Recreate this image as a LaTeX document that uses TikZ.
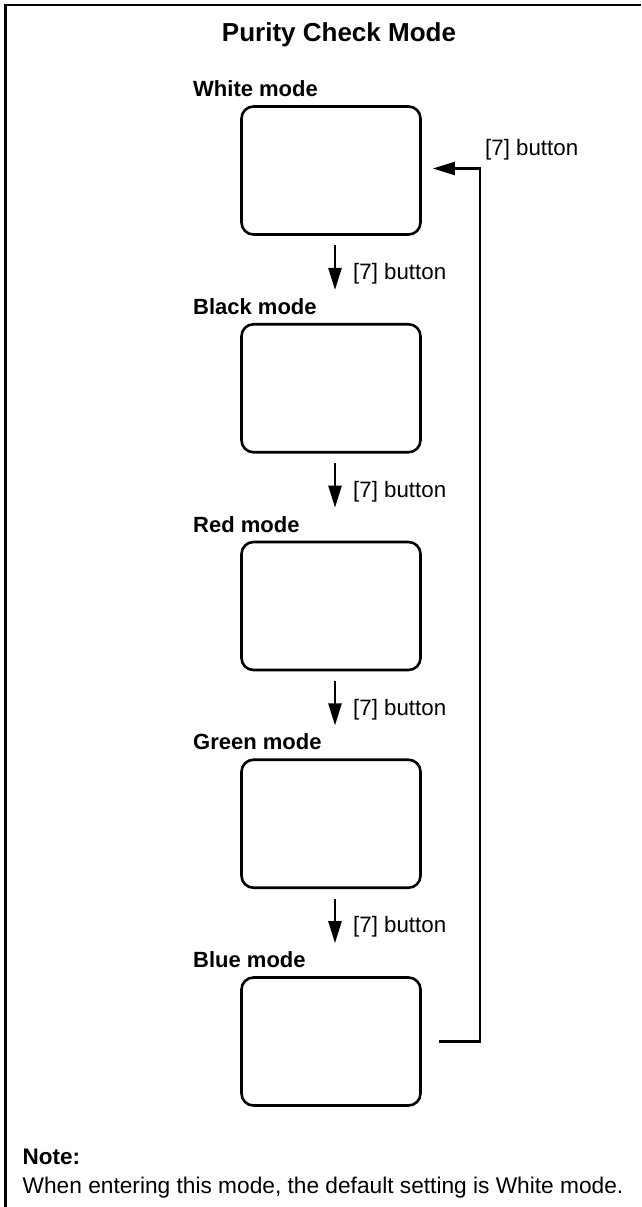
\documentclass[tikz,border=0pt]{standalone}
\usepackage{fontspec}
\setmainfont{Liberation Sans}
\usetikzlibrary{arrows.meta}
\tikzset{
  modebox/.style={draw, line width=2.6pt, rounded corners=12pt, minimum width=179pt, minimum height=128pt, inner sep=0pt},
  modelabel/.style={anchor=base west, inner sep=0pt, font=\fontsize{22pt}{26pt}\selectfont\bfseries},
  btnlabel/.style={anchor=base west, inner sep=0pt, font=\fontsize{22.3pt}{26pt}\selectfont},
  arr/.style={line width=2.4pt, -{Triangle[length=22pt,width=13pt]}},
}
\begin{document}
\begin{tikzpicture}[x=1pt,y=-1pt]
\useasboundingbox (0,0) rectangle (641,1207);
% frame
\draw[line width=2.5pt] (5.5,1207) -- (5.5,5) -- (641,5);
% title
\node[anchor=base, inner sep=0pt, font=\fontsize{26pt}{30pt}\selectfont\bfseries] (title) at (339,41.7) {Purity Check Mode};
% boxes
\node[modebox] (w) at (331,170.5) {};
\node[modebox] (k) at (331,388.25) {};
\node[modebox] (r) at (331,606) {};
\node[modebox] (g) at (331,823.75) {};
\node[modebox] (b) at (331,1041.5) {};
% mode labels
\node[modelabel] (lw) at (193,96.5) {White mode};
\node[modelabel] (lk) at (193,314.25) {Black mode};
\node[modelabel] (lr) at (193,532) {Red mode};
\node[modelabel] (lg) at (193,749.75) {Green mode};
\node[modelabel] (lb) at (193,967.5) {Blue mode};
% down arrows
\draw[arr, shorten <=9.5pt, shorten >=33pt] ([xshift=4pt]w.south) -- ([xshift=4pt]k.north);
\draw[arr, shorten <=9.5pt, shorten >=33pt] ([xshift=4pt]k.south) -- ([xshift=4pt]r.north);
\draw[arr, shorten <=9.5pt, shorten >=33pt] ([xshift=4pt]r.south) -- ([xshift=4pt]g.north);
\draw[arr, shorten <=9.5pt, shorten >=33pt] ([xshift=4pt]g.south) -- ([xshift=4pt]b.north);
% arrow labels
\node[btnlabel] (t1) at (353,279.5) {[7] button};
\node[btnlabel] (t2) at (353,497.25) {[7] button};
\node[btnlabel] (t3) at (353,715) {[7] button};
\node[btnlabel] (t4) at (353,932.75) {[7] button};
% loop back
\draw[arr] ([xshift=17.5pt]b.east) -- ([xshift=58pt]b.east) |- ([xshift=11pt,yshift=2pt]w.east);
\node[btnlabel] (t5) at (485,155) {[7] button};
% note
\node[anchor=base west, inner sep=0pt, font=\fontsize{22.5pt}{26pt}\selectfont\bfseries] (note) at (22.5,1164) {Note:};
\node[anchor=base west, inner sep=0pt, font=\fontsize{22.7pt}{26pt}\selectfont] (notetext) at (22.5,1193) {When entering this mode, the default setting is White mode.};
\end{tikzpicture}
\end{document}
